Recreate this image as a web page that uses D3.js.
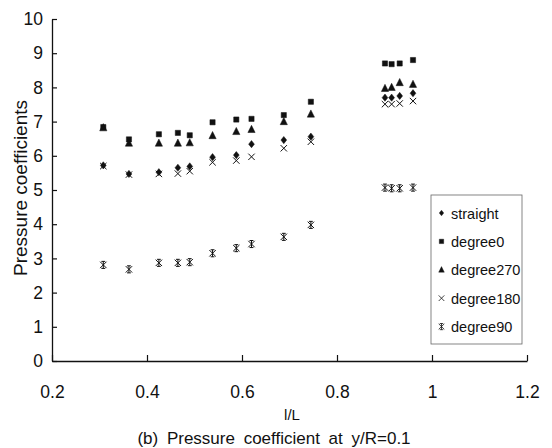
<!DOCTYPE html>
<html>
<head>
<meta charset="utf-8">
<script src="https://cdn.jsdelivr.net/npm/d3@7"></script>
<style>
  body { margin: 0; background: #fff; }
  svg { font-family: "Liberation Sans", Arial, sans-serif; }
</style>
</head>
<body>
<div id="chart"></div>
<script>
// l/L positions of the measuring points
const lOverL = [0.308, 0.362, 0.425, 0.465, 0.49, 0.538, 0.588, 0.62, 0.688, 0.745, 0.901, 0.915, 0.932, 0.960];

// pressure coefficients per series
const straight  = [5.72, 5.47, 5.52, 5.65, 5.69, 5.96, 6.02, 6.34, 6.46, 6.56, 7.70, 7.70, 7.75, 7.83];
const degree0   = [6.84, 6.48, 6.63, 6.67, 6.60, 6.98, 7.06, 7.08, 7.19, 7.58, 8.70, 8.68, 8.70, 8.80];
const degree270 = [6.82, 6.37, 6.37, 6.37, 6.38, 6.59, 6.71, 6.77, 7.00, 7.22, 7.97, 8.00, 8.14, 8.09];
const degree180 = [5.70, 5.45, 5.47, 5.48, 5.55, 5.81, 5.86, 5.97, 6.22, 6.41, 7.51, 7.51, 7.53, 7.60];
const degree90  = [2.81, 2.68, 2.87, 2.87, 2.89, 3.15, 3.30, 3.42, 3.63, 3.98, 5.07, 5.05, 5.05, 5.07];

const seriesNames = ["straight", "degree0", "degree270", "degree180", "degree90"];
const seriesShapes = ["diamond", "square", "triangle", "cross", "star"];
const seriesValues = [straight, degree0, degree270, degree180, degree90];

const xTicks = [0.2, 0.4, 0.6, 0.8, 1, 1.2];
const yTicks = [0, 1, 2, 3, 4, 5, 6, 7, 8, 9, 10];

const W = 552, H = 448;
const svg = d3.select("#chart").append("svg")
    .attr("width", W)
    .attr("height", H);

const x = d3.scaleLinear().domain([0.2, 1.2]).range([52, 527]);
const y = d3.scaleLinear().domain([0, 10]).range([361, 19]);

// marker paths, r = half size
function markerPath(shape, r) {
    switch (shape) {
        case "diamond":
            return `M0,${-r}L${r * 0.8},0L0,${r}L${-r * 0.8},0Z`;
        case "square":
            return `M${-r},${-r}H${r}V${r}H${-r}Z`;
        case "triangle":
            return `M0,${-r * 1.15}L${r},${r * 0.85}L${-r},${r * 0.85}Z`;
        case "cross":
            return `M${-r},${-r}L${r},${r}M${-r},${r}L${r},${-r}`;
        case "star":
            return `M${-r},${-r}L${r},${r}M${-r},${r}L${r},${-r}M0,${-r * 1.1}L0,${r * 1.1}M${-r * 0.6},${-r * 1.1}H${r * 0.6}M${-r * 0.6},${r * 1.1}H${r * 0.6}`;
    }
}
const stroked = s => s === "cross" || s === "star";
const plotSize = { diamond: 3.6, square: 2.6, triangle: 3.6, cross: 3.2, star: 3.2 };
const legendSize = { diamond: 2.8, square: 2.2, triangle: 2.8, cross: 2.8, star: 2.8 };

// axes
const yAxis = svg.append("g")
    .attr("transform", `translate(${x(0.2)},0)`)
    .call(d3.axisLeft(y).tickValues(yTicks).tickSizeInner(-5).tickSizeOuter(0).tickPadding(9));
const xAxis = svg.append("g")
    .attr("transform", `translate(0,${y(0)})`)
    .call(d3.axisBottom(x).tickValues(xTicks).tickFormat(d3.format("")).tickSizeInner(-6).tickSizeOuter(0).tickPadding(25));

[xAxis, yAxis].forEach(g => {
    g.select(".domain").attr("stroke", "#111").attr("stroke-width", 1.3);
    g.selectAll(".tick line").attr("stroke", "#111").attr("stroke-width", 1.2);
    g.selectAll(".tick text").attr("fill", "#111").style("font-size", "17.5px");
});

// points
seriesNames.forEach((name, i) => {
    const shape = seriesShapes[i];
    svg.append("g").selectAll("path")
        .data(seriesValues[i].map((v, j) => ({ l: lOverL[j], v })))
        .enter().append("path")
        .attr("transform", d => `translate(${x(d.l)},${y(d.v)})`)
        .attr("d", markerPath(shape, plotSize[shape]))
        .attr("fill", stroked(shape) ? "none" : "#111")
        .attr("stroke", "#111")
        .attr("stroke-width", stroked(shape) ? 1 : 0.5);
});

// legend
const legend = svg.append("g");
legend.append("rect")
    .attr("x", 431).attr("y", 195)
    .attr("width", 91).attr("height", 149)
    .attr("fill", "#fff")
    .attr("stroke", "#666")
    .attr("stroke-width", 0.8);

seriesNames.forEach((name, i) => {
    const shape = seriesShapes[i];
    const ly = 213 + i * 28.4;
    legend.append("path")
        .attr("transform", `translate(441.5,${ly})`)
        .attr("d", markerPath(shape, legendSize[shape]))
        .attr("fill", stroked(shape) ? "none" : "#111")
        .attr("stroke", "#111")
        .attr("stroke-width", stroked(shape) ? 0.8 : 0.4);
    legend.append("text")
        .attr("x", 451)
        .attr("y", ly + 5.5)
        .attr("fill", "#111")
        .style("font-size", "14.5px")
        .text(name);
});

// axis titles
svg.append("text")
    .attr("transform", "translate(27,188) rotate(-90)")
    .attr("text-anchor", "middle")
    .attr("fill", "#111")
    .style("font-size", "19px")
    .text("Pressure coefficients");

svg.append("text")
    .attr("x", 292)
    .attr("y", 420)
    .attr("text-anchor", "middle")
    .attr("fill", "#111")
    .style("font-size", "15px")
    .text("l/L");

svg.append("text")
    .attr("x", 274)
    .attr("y", 444)
    .attr("text-anchor", "middle")
    .attr("fill", "#111")
    .style("font-size", "17px")
    .style("word-spacing", "4px")
    .text("(b) Pressure coefficient at y/R=0.1");
</script>
</body>
</html>
